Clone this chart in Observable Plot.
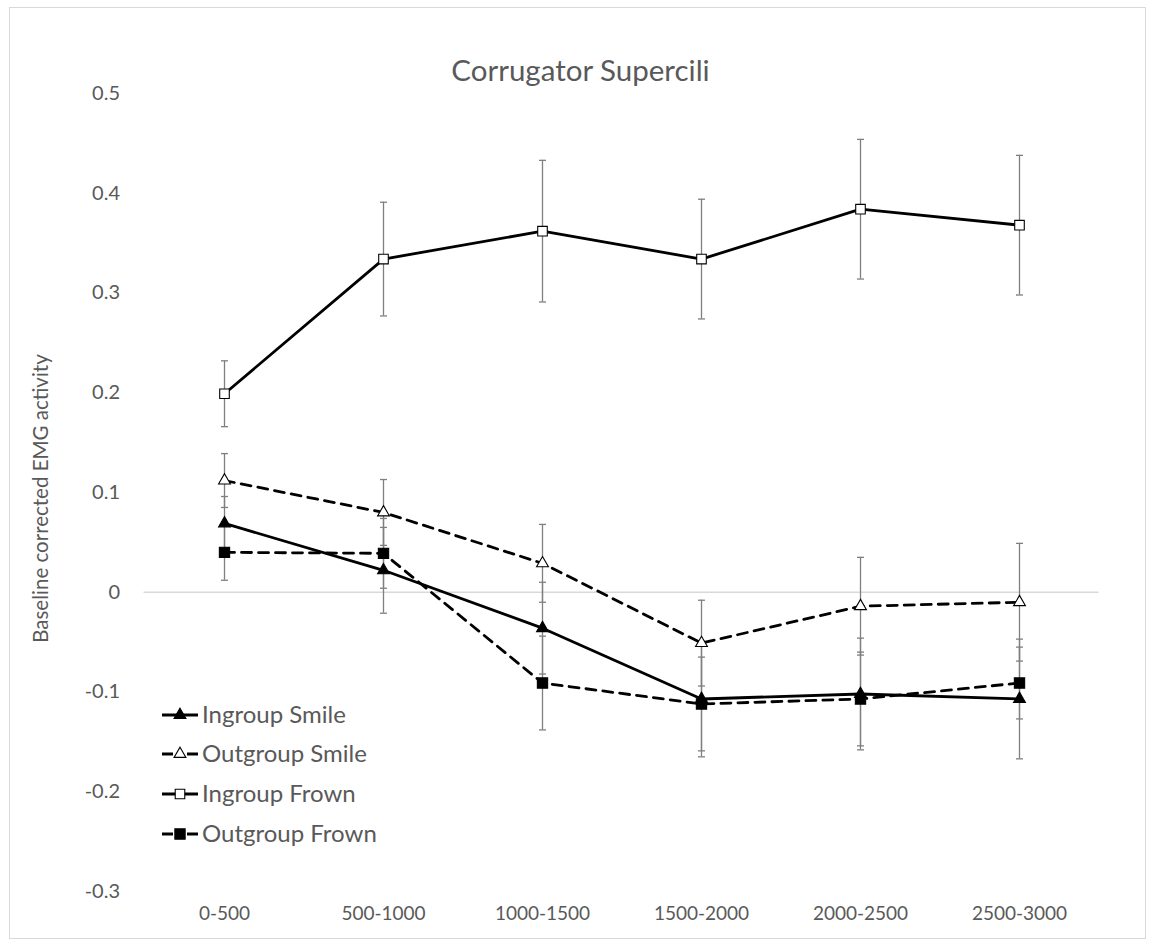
<!DOCTYPE html>
<html><head><meta charset="utf-8">
<script src="https://cdn.jsdelivr.net/npm/d3@7"></script>
<script src="https://cdn.jsdelivr.net/npm/@observablehq/plot@0.6"></script>
<style>
body{margin:0;background:#fff;}
#wrap{position:relative;width:1152px;height:945px;}
#border{position:absolute;left:9px;top:7px;width:1137px;height:932px;border:1px solid #d9d9d9;pointer-events:none;box-sizing:border-box;}
</style></head><body><div id="wrap"><div id="border"></div></div>
<script>
// ---- data ----
const title = "Corrugator Supercili";
const yLabel = "Baseline corrected EMG activity";
const categories = ["0-500", "500-1000", "1000-1500", "1500-2000", "2000-2500", "2500-3000"];
const seriesNames = ["Ingroup Smile", "Outgroup Smile", "Ingroup Frown", "Outgroup Frown"];
const yTicks = [-0.3, -0.2, -0.1, 0, 0.1, 0.2, 0.3, 0.4, 0.5];

const ingroupSmile     = [0.069, 0.022, -0.036, -0.107, -0.102, -0.107];
const ingroupSmileErr  = [0.027, 0.043, 0.046, 0.058, 0.056, 0.060];
const outgroupSmile    = [0.112, 0.080, 0.029, -0.051, -0.014, -0.010];
const outgroupSmileErr = [0.027, 0.033, 0.039, 0.043, 0.049, 0.059];
const ingroupFrown     = [0.199, 0.334, 0.362, 0.334, 0.384, 0.368];
const ingroupFrownErr  = [0.033, 0.057, 0.071, 0.060, 0.070, 0.070];
const outgroupFrown    = [0.040, 0.039, -0.091, -0.112, -0.107, -0.091];
const outgroupFrownErr = [0.028, 0.035, 0.047, 0.047, 0.047, 0.036];

// ---- build table ----
const seriesValues = [ingroupSmile, outgroupSmile, ingroupFrown, outgroupFrown];
const seriesErrs = [ingroupSmileErr, outgroupSmileErr, ingroupFrownErr, outgroupFrownErr];
const rows = seriesNames.flatMap((name, s) =>
  categories.map((cat, i) => ({series: name, cat, value: seriesValues[s][i], err: seriesErrs[s][i]})));

const styles = {
  "Ingroup Smile":  {symbol: "triangle", fill: "black", dash: null, r: 4.4},
  "Outgroup Smile": {symbol: "triangle", fill: "white", dash: "10,7", r: 4.4},
  "Ingroup Frown":  {symbol: "square", fill: "white", dash: null, r: 5.4},
  "Outgroup Frown": {symbol: "square", fill: "black", dash: "10,7", r: 5.8}
};
const textColor = "#595959";
const capSymbol = {draw(ctx, size) { ctx.moveTo(-3.5, 0); ctx.lineTo(3.5, 0); }};

const seriesMarks = seriesNames.map(name => {
  const st = styles[name];
  const data = rows.filter(d => d.series === name);
  return Plot.line(data, {x: "cat", y: "value", stroke: "black", strokeWidth: 2.8, strokeDasharray: st.dash ?? undefined, strokeLinejoin: "round"});
});
const dotMarks = seriesNames.map(name => {
  const st = styles[name];
  const data = rows.filter(d => d.series === name);
  return Plot.dot(data, {x: "cat", y: "value", symbol: st.symbol, r: st.r, fill: st.fill, stroke: "black", strokeWidth: 1.1});
});

function legendMark(index, scales, values, dims) {
  const g = d3.create("svg:g");
  const rowY = [715, 754, 794, 834];
  seriesNames.forEach((name, i) => {
    const st = styles[name];
    const y = rowY[i];
    g.append("line").attr("x1", 162).attr("x2", 198).attr("y1", y).attr("y2", y)
      .attr("stroke", "black").attr("stroke-width", 2.8)
      .attr("stroke-dasharray", st.dash ? "11,14" : null);
    const sym = st.symbol === "triangle" ? d3.symbolTriangle : d3.symbolSquare;
    g.append("path").attr("d", d3.symbol(sym, Math.PI * st.r * st.r)())
      .attr("transform", `translate(180,${y})`)
      .attr("fill", st.fill).attr("stroke", "black").attr("stroke-width", 1.1);
    g.append("text").attr("x", 202).attr("y", y).attr("dy", "0.35em")
      .attr("text-anchor", "start")
      .attr("fill", textColor).attr("font-size", 24).text(name);
  });
  return g.node();
}

const chart = Plot.plot({
  width: 1152,
  height: 945,
  marginLeft: 143.5,
  marginRight: 53.5,
  marginTop: 93,
  marginBottom: 54,
  style: {fontFamily: "Lato, 'Open Sans', sans-serif", fontSize: "19px", color: textColor, background: "transparent"},
  x: {type: "point", domain: categories, padding: 0.5},
  y: {domain: [-0.3, 0.5]},
  marks: [
    Plot.ruleY([0], {stroke: "#d9d9d9", strokeWidth: 1.6}),
    Plot.axisY({ticks: yTicks, tickSize: 0, tickPadding: 24, label: null, fill: textColor, fontSize: 20,
      tickFormat: d => d === 0 ? "0" : d.toFixed(1)}),
    Plot.axisX({tickSize: 0, tickPadding: 15, label: null, fill: textColor, fontSize: 19}),
    Plot.text([yLabel], {text: d => d, frameAnchor: "left", textAnchor: "middle", rotate: -90, dx: -103, dy: 6, fontSize: 20.5, fill: textColor}),
    Plot.text([title], {text: d => d, frameAnchor: "top", dy: -33, dx: -41, fontSize: 29.5, fill: textColor}),
    Plot.ruleX(rows, {x: "cat", y1: d => d.value - d.err, y2: d => d.value + d.err, stroke: "#7f7f7f", strokeWidth: 1.3}),
    Plot.dot(rows, {x: "cat", y: d => d.value + d.err, symbol: capSymbol, r: 3, stroke: "#7f7f7f", strokeWidth: 1.3, fill: "none"}),
    Plot.dot(rows, {x: "cat", y: d => d.value - d.err, symbol: capSymbol, r: 3, stroke: "#7f7f7f", strokeWidth: 1.3, fill: "none"}),
    ...seriesMarks,
    ...dotMarks,
    legendMark
  ]
});
document.getElementById("wrap").prepend(chart);
</script>
</body></html>
